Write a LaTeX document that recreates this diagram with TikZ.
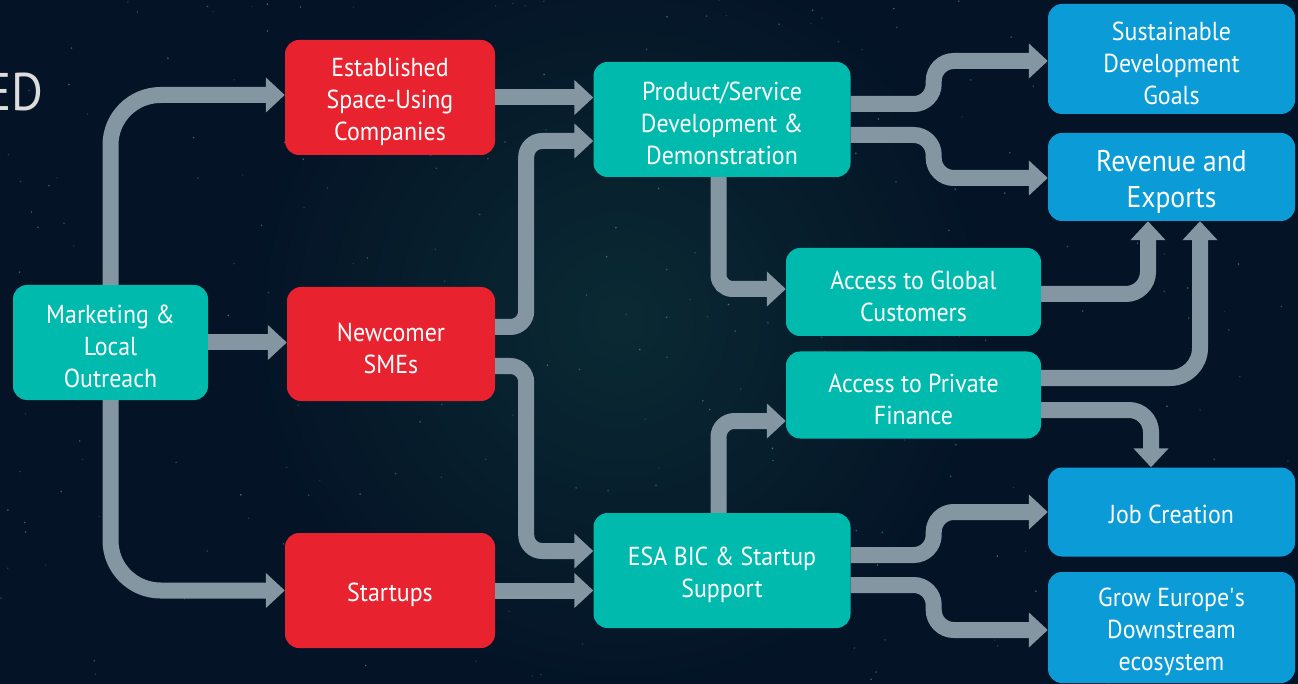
\documentclass[tikz,border=0pt]{standalone}
\usepackage{fontspec}
\setmainfont{PT Sans}[FakeStretch=0.92]
\usetikzlibrary{arrows.meta,calc}
\definecolor{bgc}{HTML}{041326}
\definecolor{nebc}{HTML}{0A2A33}
\definecolor{starc}{HTML}{5FB8B8}
\definecolor{tealc}{HTML}{00BAAE}
\definecolor{redc}{HTML}{E8232F}
\definecolor{bluec}{HTML}{0B9BD7}
\definecolor{arrowc}{HTML}{8596A3}
\definecolor{edc}{HTML}{DCDCDC}
\begin{document}
\begin{tikzpicture}[x=1pt,y=1pt,
  box/.style={rounded corners=14pt, text=white, align=center, inner sep=0pt,
    font=\fontsize{26}{32}\selectfont},
  tup/.style={execute at begin node={\rule{0pt}{#1}}},
  tealbox/.style={box, fill=tealc},
  redbox/.style={box, fill=redc},
  bluebox/.style={box, fill=bluec},
  flow/.style={draw=arrowc, line width=16pt, rounded corners=18pt,
    -{Triangle[width=34pt,length=19pt]}}
]
\useasboundingbox (0,0) rectangle (1298,-684);
\fill[bgc] (0,0) rectangle (1298,-684);
\shade[inner color=nebc, outer color=bgc] (620,-320) circle (380);
\pgfmathsetseed{11}
\foreach \i in {1,...,300}{
  \pgfmathsetmacro\sx{rnd*1298}
  \pgfmathsetmacro\sy{-rnd*684}
  \pgfmathsetmacro\so{0.15+0.45*rnd}
  \fill[starc, opacity=\so] (\sx,\sy) circle (0.9);
}
\node[anchor=base east, text=edc, inner sep=0pt, font=\fontsize{53}{53}\selectfont] (ed) at (44,-111) {ED};

\node[tealbox, tup=91pt, minimum width=195, minimum height=115] (mkt) at (110.5,-342.5) {Marketing \&\\ Local\\ Outreach};
\node[redbox, tup=91pt, minimum width=210, minimum height=115] (est) at (390,-97.5) {Established\\ Space-Using\\ Companies};
\node[redbox, tup=59pt, minimum width=208, minimum height=114] (new) at (391,-344) {Newcomer\\ SMEs};
\node[redbox, tup=27pt, minimum width=210, minimum height=115] (start) at (390,-590.5) {Startups};
\node[tealbox, tup=91pt, minimum width=257, minimum height=115] (prod) at (722,-119.5) {Product/Service\\ Development \&\\ Demonstration};
\node[tealbox, tup=59pt, minimum width=257, minimum height=115] (esa) at (722,-570.5) {ESA BIC \& Startup\\ Support};
\node[tealbox, tup=59pt, minimum width=255, minimum height=88] (glob) at (913.5,-292) {Access to Global\\ Customers};
\node[tealbox, tup=59pt, minimum width=255, minimum height=87] (priv) at (913.5,-395) {Access to Private\\ Finance};
\node[bluebox, tup=91pt, minimum width=247, minimum height=110] (sdg) at (1171.5,-59) {Sustainable\\ Development\\ Goals};
\node[bluebox, tup=68pt, minimum width=247, minimum height=88, font=\fontsize{30}{36}\selectfont] (rev) at (1171.5,-177) {Revenue and\\ Exports};
\node[bluebox, tup=23pt, minimum width=247, minimum height=89] (job) at (1171.5,-512) {Job Creation};
\node[bluebox, tup=91pt, minimum width=247, minimum height=111] (grow) at (1171.5,-627.5) {Grow Europe\textquotesingle s\\ Downstream\\ ecosystem};

\draw[flow, rounded corners=50pt] (mkt.north) |- ([yshift=2.5pt]est.west);
\draw[flow, rounded corners=50pt] (mkt.south) |- (start.west);
\draw[flow] (mkt.east) -- (new.west |- mkt.east);
\draw[flow] (est.east) -- (prod.west |- est.east);
\draw[flow, rounded corners=16pt] ([yshift=17pt]new.east) -- ++(31,0) |- ([yshift=-21.5pt]prod.west);
\draw[flow, rounded corners=16pt] ([yshift=-22pt]new.east) -- ++(31,0) |- ([yshift=19.5pt]esa.west);
\draw[flow] (start.east) -- (esa.west |- start.east);
\draw[flow, rounded corners=14pt] ([xshift=-3.5pt]prod.south) |- ([yshift=3pt]glob.west);
\draw[flow, rounded corners=16pt] ([xshift=-3.5pt]esa.north) |- ([yshift=-26pt]priv.west);
\draw[flow, rounded corners=22pt] ([yshift=-2pt]glob.east) -| ([xshift=-23.5pt]rev.south);
\draw[flow, rounded corners=30pt] ([yshift=17pt]priv.east) -| ([xshift=28.5pt]rev.south);
\draw[flow, rounded corners=22pt] ([yshift=-15pt]priv.east) -| ([xshift=-20.5pt]job.north);
\draw[flow, rounded corners=20pt] ([yshift=15.5pt]prod.east) -- ++(83,0) |- ([yshift=-2pt]sdg.west);
\draw[flow, rounded corners=20pt] ([yshift=-15.5pt]prod.east) -- ++(83,0) |- ([yshift=-1pt]rev.west);
\draw[flow, rounded corners=20pt] ([yshift=15.5pt]esa.east) -- ++(83,0) |- (job.west);
\draw[flow, rounded corners=20pt] ([yshift=-14.5pt]esa.east) -- ++(83,0) |- ([yshift=-2.5pt]grow.west);
\end{tikzpicture}
\end{document}
